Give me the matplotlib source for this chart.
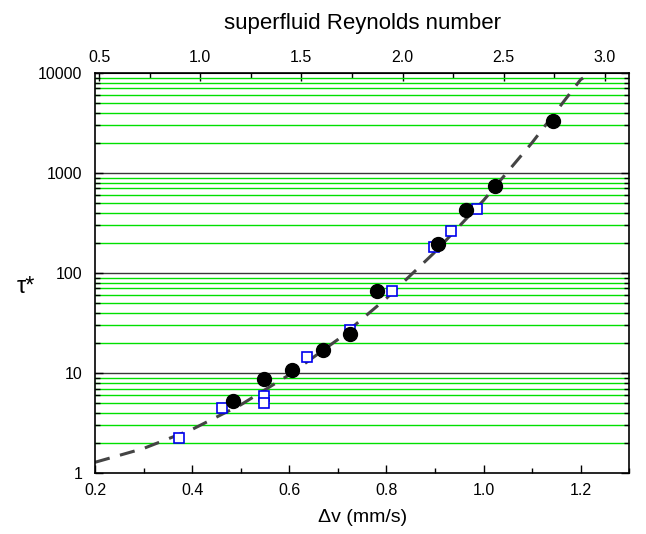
import matplotlib
matplotlib.use('Agg')
import matplotlib.pyplot as plt
import numpy as np
from matplotlib.ticker import LogLocator, MultipleLocator, NullFormatter, FixedLocator

plt.rcParams['font.family'] = ['Liberation Sans', 'DejaVu Sans']

# filled circles
dv_circ = [0.485, 0.549, 0.605, 0.670, 0.726, 0.781, 0.906, 0.963, 1.023, 1.144]
tau_circ = [5.2, 8.7, 10.8, 17.1, 24.5, 66, 196, 427, 746, 3340]

# open squares
dv_sq = [0.374, 0.461, 0.549, 0.549, 0.636, 0.725, 0.811, 0.899, 0.933, 0.986]
tau_sq = [2.22, 4.5, 5.85, 5.0, 14.6, 26.9, 66.5, 182, 265, 440]

# dashed fit curve
dv_fit = [0.2, 0.3, 0.4, 0.5, 0.6, 0.7, 0.8, 0.9, 1.0, 1.1, 1.2, 1.205]
tau_fit = [1.28, 1.76, 2.73, 4.8, 9.6, 21.6, 55.8, 162, 532, 2010, 8600, 8900]

# top axis ticks (superfluid Reynolds number)
re_major = [0.5, 1.0, 1.5, 2.0, 2.5, 3.0]
re_minor = [0.75, 1.25, 1.75, 2.25, 2.75]
re_per_dv = 2.4

fig = plt.figure(figsize=(6.46, 5.34), dpi=100)
ax = fig.add_axes([0.147, 0.1142, 0.827, 0.7491])

ax.set_yscale('log')
ax.set_xlim(0.2, 1.3)
ax.set_ylim(1, 10000)

# horizontal grid: green at minor, dark at decades
for dec in [1, 10, 100, 1000]:
    for m in range(2, 10):
        ax.axhline(dec * m, color='#00e000', lw=1.0, zorder=1)
for dec in [10, 100, 1000]:
    ax.axhline(dec, color='#3a3a3a', lw=1.0, zorder=1)

ax.plot(dv_fit, tau_fit, color='#444444', lw=2.2, dashes=(5, 3.5), zorder=2)
ax.plot(dv_sq, tau_sq, 's', ms=7.5, mfc='white', mec='#0000ee', mew=1.2, zorder=3)
ax.plot(dv_circ, tau_circ, 'o', ms=10, color='black', zorder=4)

ax.xaxis.set_major_locator(MultipleLocator(0.2))
ax.xaxis.set_minor_locator(MultipleLocator(0.1))
ax.yaxis.set_major_locator(FixedLocator([1, 10, 100, 1000, 10000]))
ax.set_yticklabels(['1', '10', '100', '1000', '10000'])
ax.yaxis.set_minor_locator(LogLocator(base=10, subs=np.arange(2, 10)))
ax.yaxis.set_minor_formatter(NullFormatter())
ax.xaxis.set_major_formatter(plt.FuncFormatter(lambda v, p: '%.1f' % v))

ax.tick_params(which='both', direction='in', right=True, labelsize=11.5, width=1)
ax.tick_params(axis='x', which='both', top=False, pad=7)
ax.tick_params(axis='y', which='both', pad=9)
ax.tick_params(which='major', length=6)
ax.tick_params(which='minor', length=3.6)
for s in ax.spines.values():
    s.set_linewidth(1.2)

ax.set_xlabel('Δv (mm/s)', fontsize=14, labelpad=8)
ax.set_ylabel('τ*', fontsize=17, rotation=0, va='center', ha='center')
ax.yaxis.set_label_coords(-0.13, 0.465)

top = ax.secondary_xaxis('top', functions=(lambda x: x * re_per_dv, lambda r: r / re_per_dv))
top.xaxis.set_major_locator(FixedLocator(re_major))
top.xaxis.set_minor_locator(FixedLocator(re_minor))
top.xaxis.set_major_formatter(plt.FuncFormatter(lambda v, p: '%.1f' % v))
top.tick_params(which='both', direction='in', labelsize=11.5, width=1, pad=6)
top.tick_params(which='major', length=6)
top.tick_params(which='minor', length=3.6)
top.set_xlabel('superfluid Reynolds number', fontsize=16, labelpad=15)

fig.savefig('out.png', dpi=100)
